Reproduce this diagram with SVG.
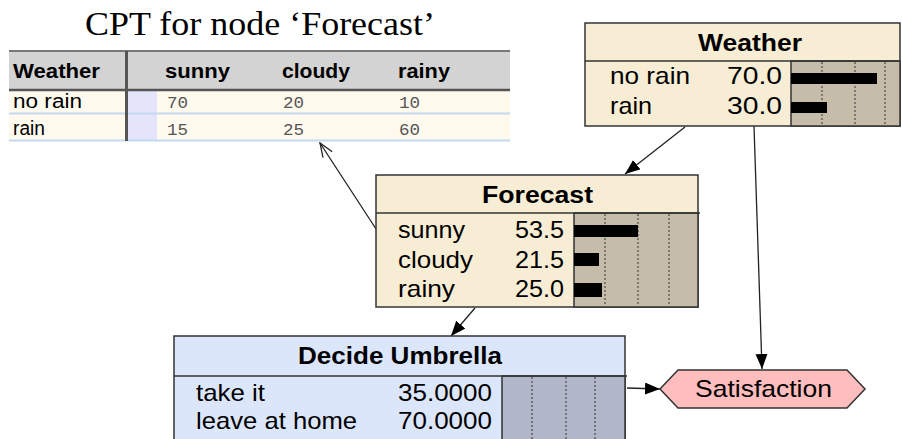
<svg xmlns="http://www.w3.org/2000/svg" width="902" height="439" viewBox="0 0 902 439">
<style>
.t{font-family:"Liberation Sans",Arial,sans-serif;fill:#000}
.b{font-weight:bold}
.mono{font-family:"Liberation Mono","Courier New",monospace;fill:#555;font-size:16px}
.nature{fill:#f7edd5;stroke:#333;stroke-width:1.5}
.natbar{fill:#c5bda9;stroke:#333;stroke-width:1.5}
.dec{fill:#dce6fb;stroke:#333;stroke-width:1.5}
.decbar{fill:#b1b7c9;stroke:#333;stroke-width:1.5}
.grid{stroke:#333;stroke-width:1;stroke-dasharray:2,2}
.bar{fill:#000}
.edge{stroke:#222;stroke-width:1.3;fill:none}
</style>
<defs>
<marker id="ah" markerUnits="userSpaceOnUse" markerWidth="16" markerHeight="14" refX="15" refY="6" orient="auto">
<path d="M0,0 L15,6 L0,12 z" fill="#000"/>
</marker>
<marker id="oh" markerUnits="userSpaceOnUse" markerWidth="16" markerHeight="14" refX="15" refY="6" orient="auto">
<path d="M1,0.5 L15,6 L1,11.5" fill="none" stroke="#222" stroke-width="1.3"/>
</marker>
</defs>

<g id="cpt-table">
<text x="85" y="35" font-family="'Liberation Serif','Times New Roman',serif" font-size="33" textLength="350" lengthAdjust="spacingAndGlyphs">CPT for node ‘Forecast’</text>
<rect x="9" y="52" width="501" height="37" fill="#d3d3d3"/>
<line x1="9" y1="51" x2="510" y2="51" stroke="#777" stroke-width="2"/>
<rect x="9" y="91" width="501" height="49" fill="#fff9ee"/>
<rect x="128" y="91" width="29" height="49" fill="#e4e4fb"/>
<line x1="9" y1="90" x2="510" y2="90" stroke="#555" stroke-width="2.5"/>
<line x1="9" y1="113.5" x2="510" y2="113.5" stroke="#c4d9ef" stroke-width="2"/>
<line x1="9" y1="140.5" x2="510" y2="140.5" stroke="#c4d9ef" stroke-width="2"/>
<line x1="126.5" y1="51" x2="126.5" y2="141" stroke="#555" stroke-width="3"/>
<text class="t b" x="13" y="78" font-size="19.5" textLength="87" lengthAdjust="spacingAndGlyphs">Weather</text>
<text class="t b" x="165" y="78" font-size="19.5" textLength="65" lengthAdjust="spacingAndGlyphs">sunny</text>
<text class="t b" x="282" y="78" font-size="19.5" textLength="68" lengthAdjust="spacingAndGlyphs">cloudy</text>
<text class="t b" x="398" y="78" font-size="19.5" textLength="52" lengthAdjust="spacingAndGlyphs">rainy</text>
<text class="t" x="13" y="108" font-size="19.5" fill="#222" textLength="69" lengthAdjust="spacingAndGlyphs">no rain</text>
<text class="t" x="13" y="135" font-size="19.5" fill="#222" textLength="32" lengthAdjust="spacingAndGlyphs">rain</text>
<text class="mono" x="167" y="108" textLength="21" lengthAdjust="spacingAndGlyphs">70</text>
<text class="mono" x="283" y="108" textLength="21" lengthAdjust="spacingAndGlyphs">20</text>
<text class="mono" x="399" y="108" textLength="21" lengthAdjust="spacingAndGlyphs">10</text>
<text class="mono" x="167" y="135" textLength="21" lengthAdjust="spacingAndGlyphs">15</text>
<text class="mono" x="283" y="135" textLength="21" lengthAdjust="spacingAndGlyphs">25</text>
<text class="mono" x="399" y="135" textLength="21" lengthAdjust="spacingAndGlyphs">60</text>
</g>

<g id="connectors">
<line class="edge" x1="685" y1="127" x2="625" y2="174" marker-end="url(#ah)"/>
<line class="edge" x1="754" y1="126" x2="762" y2="369" marker-end="url(#ah)"/>
<line class="edge" x1="475" y1="308" x2="451" y2="336" marker-end="url(#ah)"/>
<line class="edge" x1="627" y1="388" x2="660" y2="389" marker-end="url(#ah)"/>
<line class="edge" x1="378" y1="232" x2="320" y2="143" marker-end="url(#oh)"/>
</g>

<g id="node-weather">
<rect class="nature" x="585" y="23" width="315" height="103"/>
<rect class="natbar" x="791" y="61" width="109" height="65"/>
<line x1="585" y1="61" x2="900" y2="61" stroke="#333" stroke-width="1.5"/>
<line class="grid" x1="822" y1="62" x2="822" y2="125"/>
<line class="grid" x1="855" y1="62" x2="855" y2="125"/>
<line class="grid" x1="885" y1="62" x2="885" y2="125"/>
<rect class="bar" x="791" y="73" width="86" height="11"/>
<rect class="bar" x="791" y="102" width="36" height="11"/>
<text class="t b" x="698" y="51" font-size="23" textLength="104" lengthAdjust="spacingAndGlyphs">Weather</text>
<text class="t" x="610" y="84" font-size="24" textLength="80" lengthAdjust="spacingAndGlyphs">no rain</text>
<text class="t" x="727" y="84" font-size="24" textLength="55" lengthAdjust="spacingAndGlyphs">70.0</text>
<text class="t" x="610" y="114" font-size="24" textLength="42" lengthAdjust="spacingAndGlyphs">rain</text>
<text class="t" x="727" y="114" font-size="24" textLength="55" lengthAdjust="spacingAndGlyphs">30.0</text>
</g>

<g id="node-forecast">
<rect class="nature" x="376" y="175" width="322" height="132"/>
<rect class="natbar" x="574" y="213" width="124" height="94"/>
<line x1="376" y1="213" x2="700" y2="213" stroke="#333" stroke-width="1.5"/>
<line class="grid" x1="605" y1="214" x2="605" y2="306"/>
<line class="grid" x1="638" y1="214" x2="638" y2="306"/>
<line class="grid" x1="669" y1="214" x2="669" y2="306"/>
<rect class="bar" x="574" y="225" width="64" height="12"/>
<rect class="bar" x="574" y="253" width="25" height="13"/>
<rect class="bar" x="574" y="283" width="28" height="14"/>
<text class="t b" x="482" y="203" font-size="23" textLength="111" lengthAdjust="spacingAndGlyphs">Forecast</text>
<text class="t" x="398" y="238" font-size="24" textLength="67" lengthAdjust="spacingAndGlyphs">sunny</text>
<text class="t" x="515" y="238" font-size="24" textLength="49" lengthAdjust="spacingAndGlyphs">53.5</text>
<text class="t" x="398" y="268" font-size="24" textLength="75" lengthAdjust="spacingAndGlyphs">cloudy</text>
<text class="t" x="515" y="268" font-size="24" textLength="49" lengthAdjust="spacingAndGlyphs">21.5</text>
<text class="t" x="398" y="297" font-size="24" textLength="57" lengthAdjust="spacingAndGlyphs">rainy</text>
<text class="t" x="515" y="297" font-size="24" textLength="49" lengthAdjust="spacingAndGlyphs">25.0</text>
</g>

<g id="node-decide-umbrella">
<rect class="dec" x="174" y="336" width="451" height="106"/>
<rect class="decbar" x="502" y="376" width="123" height="66"/>
<line x1="174" y1="376" x2="627" y2="376" stroke="#333" stroke-width="1.5"/>
<line class="grid" x1="532" y1="377" x2="532" y2="439"/>
<line class="grid" x1="566" y1="377" x2="566" y2="439"/>
<line class="grid" x1="595" y1="377" x2="595" y2="439"/>
<text class="t b" x="298" y="364" font-size="23" textLength="204" lengthAdjust="spacingAndGlyphs">Decide Umbrella</text>
<text class="t" x="196" y="401" font-size="24" textLength="69" lengthAdjust="spacingAndGlyphs">take it</text>
<text class="t" x="398" y="401" font-size="24" textLength="94" lengthAdjust="spacingAndGlyphs">35.0000</text>
<text class="t" x="196" y="429" font-size="24" textLength="161" lengthAdjust="spacingAndGlyphs">leave at home</text>
<text class="t" x="398" y="429" font-size="24" textLength="94" lengthAdjust="spacingAndGlyphs">70.0000</text>
</g>

<g id="node-satisfaction">
<polygon points="660,389 678,370 847,370 865,389 847,408 678,408" fill="#ffbdbd" stroke="#333" stroke-width="1.5"/>
<text class="t" x="695" y="397" font-size="24" textLength="137" lengthAdjust="spacingAndGlyphs">Satisfaction</text>
</g>
</svg>
